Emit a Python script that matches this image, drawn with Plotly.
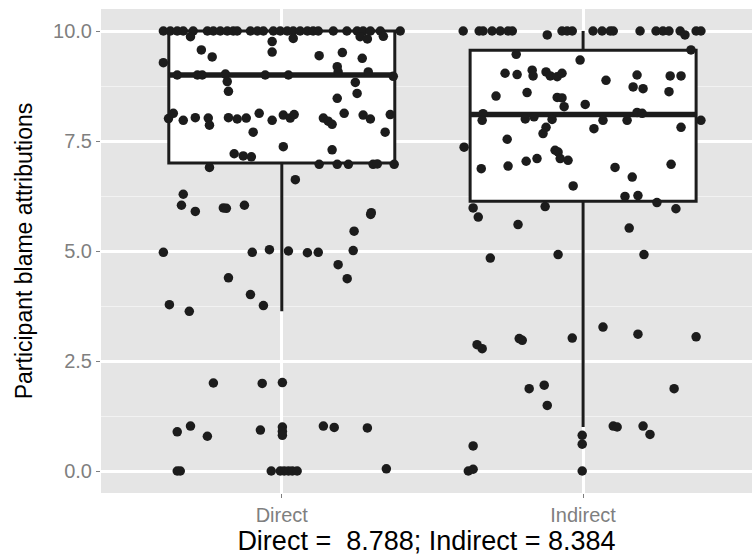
import plotly.graph_objects as go

# ---------------- data ----------------
categories = ["Direct", "Indirect"]
box_q1 = [7.0, 6.13]
box_median = [9.0, 8.10]
box_q3 = [10.0, 9.56]
box_lower = [3.63, 1.0]
box_upper = [10.0, 10.0]

y_tick_vals = [0, 2.5, 5, 7.5, 10]
y_tick_text = ["0.0", "2.5", "5.0", "7.5", "10.0"]
x_title = "Direct = \u00a08.788; Indirect = 8.384"
y_title = "Participant blame attributions"

direct_offset = [
    -0.393, -0.370, -0.347, -0.327, -0.294, -0.247, -0.227, -0.204, -0.181, -0.161,
    -0.148, -0.104, -0.081, -0.061, -0.028, -0.005, 0.018, 0.038, 0.061, 0.085,
    0.104, 0.121, 0.171, 0.216, 0.250, 0.270, 0.294, 0.327, 0.393,
    -0.303, -0.032, 0.038, 0.260, 0.284, 0.337,
    -0.032, -0.267, -0.231, -0.393, 0.124, 0.201, 0.267,
    -0.347, -0.280, -0.264, -0.187, -0.055, 0.022, 0.184, 0.187, 0.287, 0.370,
    -0.181, -0.177, 0.244, 0.250, 0.184,
    -0.376, -0.360, -0.327, -0.287, -0.244, -0.240, -0.177, -0.148, -0.118, -0.075,
    -0.032, 0.005, 0.028, 0.041, 0.138, 0.154, 0.167, 0.207, 0.270, 0.294, 0.360,
    -0.095, 0.343,
    0.005, -0.158, -0.128, -0.101, 0.167, 0.124, 0.184, 0.221, 0.303, 0.317, 0.373,
    -0.240, 0.045,
    -0.327, -0.333, -0.287, -0.194, -0.184, -0.124, 0.297, 0.295, 0.240,
    -0.393, -0.098, -0.041, 0.022, 0.085, 0.121, 0.237, 0.187, 0.217, -0.177,
    -0.104, -0.061, -0.373, -0.307,
    -0.227, -0.065, 0.002,
    -0.347, -0.303, -0.247, -0.071, 0.002, 0.002, 0.002, 0.138, 0.174, 0.284,
    -0.347, -0.337, -0.035, -0.005, 0.008, 0.022, 0.035, 0.051, 0.347,
]
direct_values = [
    10, 10, 10, 10, 10, 10, 10, 10, 10, 10,
    10, 10, 10, 10, 10, 10, 10, 10, 10, 10,
    10, 10, 10, 10, 10, 10, 10, 10, 10,
    9.87, 9.76, 9.83, 9.87, 9.82, 9.88,
    9.52, 9.57, 9.41, 9.28, 9.44, 9.51, 9.38,
    9.0, 9.0, 9.0, 9.02, 9.0, 9.0, 9.19, 9.07, 9.07, 8.97,
    8.85, 8.63, 8.83, 8.58, 8.47,
    8.01, 8.13, 7.97, 8.03, 8.02, 7.86, 8.03, 8.0, 8.02, 8.13,
    7.97, 8.09, 8.02, 8.1, 8.02, 7.95, 7.88, 8.13, 8.09, 8.0, 8.1,
    7.7, 7.7,
    7.37, 7.21, 7.16, 7.14, 7.3, 6.97, 6.97, 6.97, 6.97, 6.98, 6.97,
    6.9, 6.62,
    6.29, 6.04, 5.9, 5.98, 5.97, 6.04, 5.87, 5.83, 5.45,
    4.97, 4.97, 5.03, 5.0, 4.96, 4.97, 5.01, 4.69, 4.37, 4.39,
    4.01, 3.76, 3.78, 3.63,
    2.0, 1.99, 2.01,
    0.89, 1.02, 0.79, 0.93, 1.0, 0.9, 0.81, 1.02, 0.99, 0.98,
    0.0, 0.0, 0.0, 0.0, 0.0, 0.0, 0.0, 0.0, 0.05,
]

indirect_offset = [
    -0.398, -0.345, -0.332, -0.302, -0.275, -0.249, -0.235, -0.070, -0.053, -0.036,
    0.033, 0.063, 0.090, 0.100, 0.189, 0.242, 0.265, 0.285, 0.322, 0.375, 0.391,
    -0.119, 0.338, 0.358, -0.222, -0.010,
    -0.259, -0.219, -0.169, -0.166, -0.123, -0.109, -0.086, -0.070, 0.179, 0.289,
    0.325, 0.076, 0.166, 0.199, 0.285,
    -0.289, -0.186, -0.086, -0.070, -0.063, 0.007,
    -0.332, -0.335, -0.192, -0.163, -0.103, 0.179, 0.196, 0.066, 0.146, 0.391,
    -0.123, -0.133, -0.252, 0.036, 0.325,
    -0.395, -0.338, -0.249, -0.189, -0.153, -0.093, -0.083, -0.076, -0.050, -0.033,
    0.106, 0.163, 0.292,
    -0.365, -0.348, -0.126, -0.216, 0.139, 0.182, 0.245, 0.308, 0.153,
    -0.308, -0.083, 0.202,
    -0.352, -0.335, -0.212, -0.202, -0.036, 0.066, 0.182, 0.375,
    -0.179, -0.129, -0.119, 0.302,
    0.100, 0.113, 0.199, 0.222, -0.003, -0.003, -0.365,
    -0.381, -0.365, -0.003,
]
indirect_values = [
    10, 10, 10, 10, 10, 10, 10, 10, 10, 10,
    10, 10, 10, 10, 10, 10, 10, 10, 10, 10, 10,
    9.91, 9.91, 9.57, 9.47, 9.34,
    9.04, 9.01, 9.11, 8.98, 9.07, 8.98, 8.96, 9.04, 9.0, 8.98,
    8.98, 8.88, 8.73, 8.69, 8.62,
    8.52, 8.6, 8.49, 8.48, 8.28, 8.33,
    8.12, 7.97, 8.0, 8.05, 7.99, 8.15, 8.13, 7.97, 7.97, 7.97,
    7.81, 7.67, 7.54, 7.78, 7.81,
    7.36, 6.87, 6.93, 7.04, 7.1, 7.29, 7.25, 7.1, 7.06, 6.48,
    6.9, 6.68, 6.97,
    5.98, 5.77, 6.01, 5.6, 6.24, 6.26, 6.1, 5.96, 5.52,
    4.84, 4.92, 4.92,
    2.87, 2.78, 3.01, 2.97, 3.02, 3.27, 3.11, 3.05,
    1.87, 1.95, 1.49, 1.87,
    1.02, 1.0, 1.02, 0.83, 0.81, 0.61, 0.57,
    0.0, 0.04, 0.0,
]

# ---------------- styling ----------------
BOX_WIDTH = 0.75
INK = "#1c1c1c"
FONT = "Liberation Sans, Arial, sans-serif"

positions = list(range(len(categories)))

fig = go.Figure()

fig.add_trace(go.Box(
    x=positions,
    q1=box_q1, median=box_median, q3=box_q3,
    lowerfence=box_lower, upperfence=box_upper,
    width=BOX_WIDTH, whiskerwidth=0,
    fillcolor="white",
    line=dict(color=INK, width=3),
    boxpoints=False,
    hoverinfo="skip",
    showlegend=False,
))

# thicker median bars (ggplot fattens the median line)
med_x, med_y = [], []
for p, m in zip(positions, box_median):
    med_x += [p - BOX_WIDTH / 2, p + BOX_WIDTH / 2, None]
    med_y += [m, m, None]
fig.add_trace(go.Scatter(
    x=med_x, y=med_y, mode="lines",
    line=dict(color=INK, width=5.5),
    hoverinfo="skip", showlegend=False,
))

for p, offs, vals in [(0, direct_offset, direct_values), (1, indirect_offset, indirect_values)]:
    fig.add_trace(go.Scatter(
        x=[p + o for o in offs], y=vals, mode="markers",
        marker=dict(color=INK, size=9.5, line=dict(width=0)),
        showlegend=False,
    ))

fig.update_layout(
    width=752, height=556,
    margin=dict(l=101, r=0, t=9, b=63),
    paper_bgcolor="white",
    plot_bgcolor="#E5E5E5",
    font=dict(family=FONT, color="#7F7F7F", size=20),
)

fig.update_xaxes(
    range=[-0.6, 1.5605],
    tickvals=positions, ticktext=categories,
    showgrid=True, gridcolor="white", gridwidth=2.5,
    zeroline=False, showline=False,
    ticks="outside", ticklen=4, tickwidth=1, tickcolor="#7F7F7F",
    ticklabelstandoff=0,
    tickfont=dict(size=20, color="#7F7F7F"),
    title=dict(text=x_title, font=dict(size=27, color="black"), standoff=7),
)
fig.update_yaxes(
    range=[-0.5, 10.5],
    tickvals=y_tick_vals, ticktext=y_tick_text,
    showgrid=True, gridcolor="white", gridwidth=2.5,
    minor=dict(tickvals=[1.25, 3.75, 6.25, 8.75], showgrid=True,
               gridcolor="#F2F2F2", gridwidth=1),
    zeroline=False, showline=False,
    ticks="outside", ticklen=4, tickwidth=1, tickcolor="#7F7F7F",
    tickfont=dict(size=20, color="#7F7F7F"),
    title=dict(text=y_title, font=dict(size=23, color="black"), standoff=14),
)

fig.write_html("out.html")
